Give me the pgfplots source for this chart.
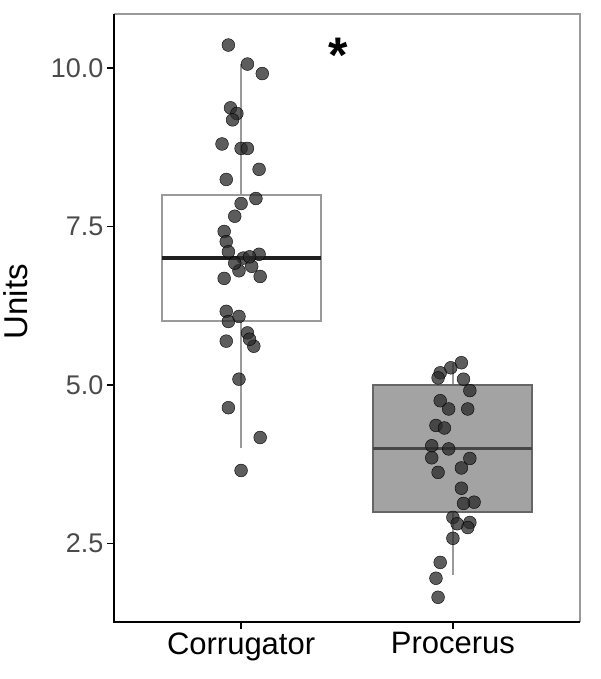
\documentclass[border=0pt]{standalone}
\usepackage{pgfplots}
\pgfplotsset{compat=1.18}
\usepackage{pgfplotstable}
\usepackage{fontspec}
\setmainfont{Liberation Sans}
\definecolor{ptcol}{HTML}{2A2A2A}
\definecolor{tickcol}{HTML}{4A4A4A}
\definecolor{boxgray}{HTML}{A3A3A3}
\definecolor{linegray}{HTML}{9A9A9A}

\pgfplotstableread{
x y
0.94 10.36
1.03 10.06
1.10 9.91
0.95 9.37
0.98 9.28
0.96 9.18
0.91 8.80
1.00 8.73
1.03 8.73
1.085 8.40
0.93 8.24
1.07 7.94
1.00 7.86
0.97 7.66
0.92 7.42
0.93 7.26
0.94 7.10
1.085 7.06
1.01 7.00
1.05 6.87
0.92 6.68
1.09 6.71
0.99 6.80
0.97 6.92
1.04 7.02
0.93 6.16
0.94 6.00
0.99 6.08
1.03 5.82
1.06 5.61
1.04 5.72
0.93 5.69
0.99 5.09
0.94 4.64
1.09 4.17
1.00 3.65
}\corr

\pgfplotstableread{
x y
2.04 5.35
1.99 5.27
1.94 5.19
1.93 5.11
2.05 5.09
2.08 4.91
1.94 4.75
1.98 4.62
2.07 4.62
1.92 4.36
1.96 4.32
1.90 4.04
1.98 3.99
1.90 3.85
2.08 3.84
2.04 3.69
1.93 3.62
2.04 3.37
2.10 3.15
2.05 3.13
2.00 2.91
2.08 2.83
2.07 2.75
2.02 2.81
2.00 2.58
1.94 2.20
1.92 1.95
1.93 1.65
}\proc

\begin{document}
\begin{tikzpicture}
\begin{axis}[
  scale only axis, width=466pt, height=608pt,
  xmin=0.4, xmax=2.6, ymin=1.26, ymax=10.85,
  xtick={1,2}, xticklabels={Corrugator,Procerus},
  ytick={2.5,5,7.5,10}, yticklabels={2.5,5.0,7.5,10.0},
  axis line style={draw=none},
  tick align=outside, tick pos=left,
  major tick length=7pt,
  tick style={black, line width=1.5pt},
  yticklabel style={font=\fontsize{27}{30}\selectfont, text=tickcol},
  xticklabel style={font=\fontsize{31}{34}\selectfont, text=black},
  clip=false,
]
% Corrugator box: whiskers, box, median
\addplot[linegray, line width=2pt, mark=none] coordinates {(1,8) (1,10.06)};
\addplot[linegray, line width=2pt, mark=none] coordinates {(1,6) (1,4.0)};
\addplot[draw=linegray, fill=white, line width=2pt, mark=none] coordinates {(0.625,6) (1.375,6) (1.375,8) (0.625,8)} -- cycle;
\addplot[black!88, line width=3.2pt, mark=none] coordinates {(0.625,7) (1.375,7)};
% Procerus box
\addplot[linegray, line width=2pt, mark=none] coordinates {(2,5) (2,5.35)};
\addplot[linegray, line width=2pt, mark=none] coordinates {(2,3) (2,2.0)};
\addplot[draw=black!60, fill=boxgray, line width=2pt, mark=none] coordinates {(1.625,3) (2.375,3) (2.375,5) (1.625,5)} -- cycle;
\addplot[black!72, line width=3pt, mark=none] coordinates {(1.625,4) (2.375,4)};
% jittered points
\addplot[only marks, mark=*, mark size=6.4pt,
  mark options={draw=none, fill=ptcol, fill opacity=0.76}] table[x=x,y=y] {\corr};
\addplot[only marks, mark=*, mark size=6.4pt,
  mark options={draw=none, fill=ptcol, fill opacity=0.76}] table[x=x,y=y] {\proc};
\draw[linegray, line width=2.2pt] (rel axis cs:0,1) -- (rel axis cs:1,1) -- (rel axis cs:1,0);
\draw[black, line width=2.2pt] (rel axis cs:0,1) -- (rel axis cs:0,0) -- (rel axis cs:1,0);
\node[font=\fontsize{50}{50}\selectfont\bfseries, inner sep=0, anchor=north] at (axis cs:1.46,10.47) {*};
\node[font=\fontsize{33}{36}\selectfont, rotate=90, anchor=north, inner sep=0]
  at ([xshift=-111pt]rel axis cs:0,0.527) {Units};
\coordinate (sw) at (rel axis cs:0,0);
\end{axis}
\pgfresetboundingbox
\path ([shift={(-114pt,-57pt)}]sw) rectangle ++(600pt,679pt);
\end{tikzpicture}
\end{document}
